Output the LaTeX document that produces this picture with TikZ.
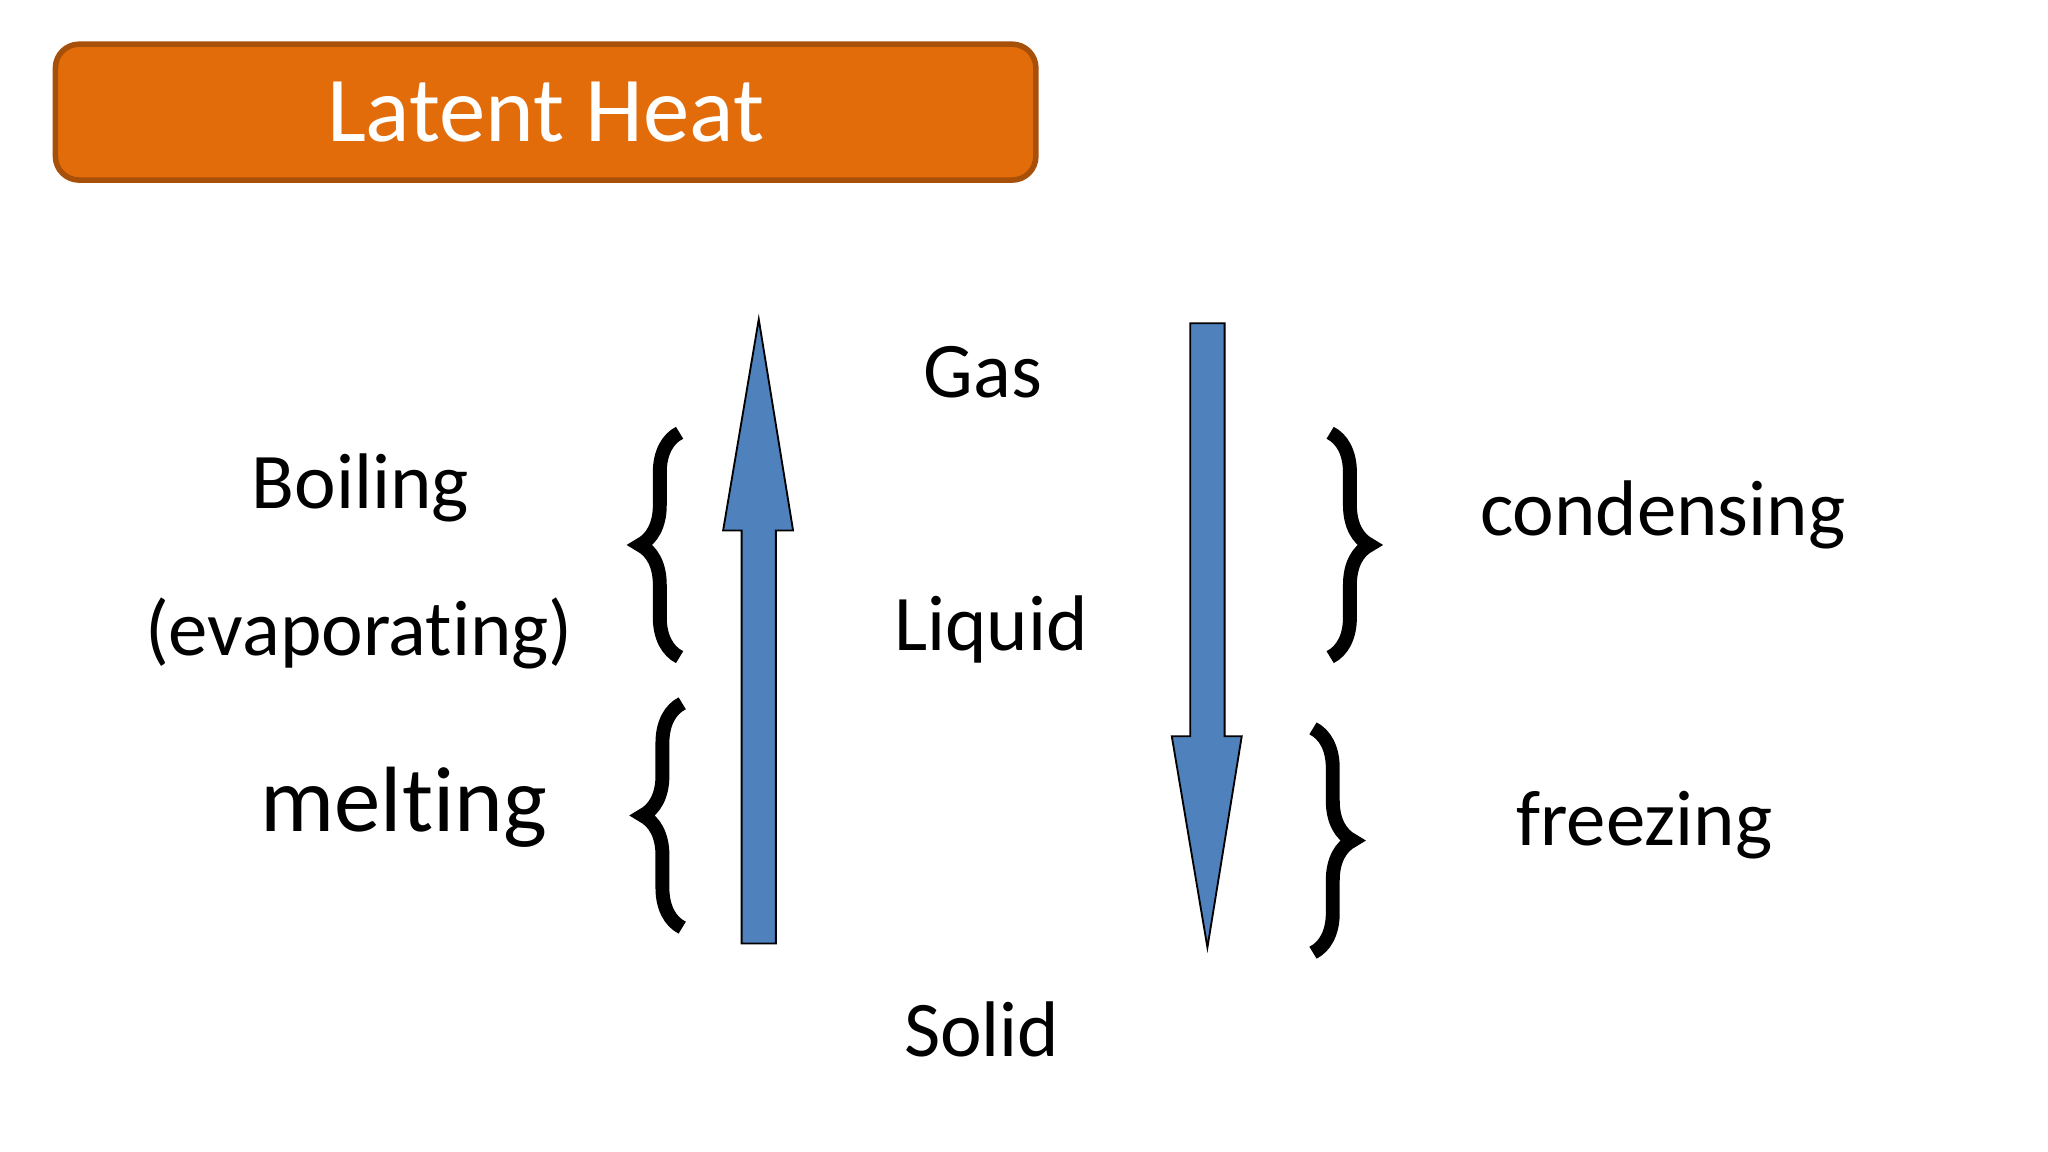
\documentclass[tikz,border=0pt]{standalone}
\usepackage{fontspec}
\setmainfont{Carlito}[Ligatures=NoCommon]
\usetikzlibrary{decorations.pathreplacing}
\definecolor{org}{HTML}{E36C0A}
\definecolor{orgb}{HTML}{A65009}
\definecolor{blu}{HTML}{4F81BD}
\tikzset{lbl/.style={font=\fontsize{17}{20}\selectfont},
 brc/.style={decorate,decoration={brace,amplitude=0.3cm},line width=3pt},
 arr/.style={fill=blu,draw=black,line width=0.4pt}}
\begin{document}
\begin{tikzpicture}
\useasboundingbox (0,0) rectangle (15.52,8.73);
\node[draw=orgb,fill=org,line width=1.2pt,rounded corners=0.18cm,minimum width=7.43cm,minimum height=1.03cm] (title) at (4.135,7.88) {};
\node[text=white,font=\fontsize{20}{24}\selectfont] at (title) {Latent Heat};
\draw[arr] (5.62,1.58) -- (5.88,1.58) -- (5.88,4.71) -- (6.01,4.71) -- (5.75,6.31) -- (5.48,4.71) -- (5.62,4.71) -- cycle;
\draw[arr] (9.02,6.28) -- (9.28,6.28) -- (9.28,3.15) -- (9.41,3.15) -- (9.15,1.55) -- (8.88,3.15) -- (9.02,3.15) -- cycle;
\node[lbl] (gas) at (7.45,5.91) {Gas};
\node[lbl] (liq) at (7.51,3.96) {Liquid};
\node[lbl] (sol) at (7.44,0.93) {Solid};
\node[lbl] (boil) at (2.73,5.03) {Boiling};
\node[lbl] (evap) at (2.72,3.93) {(evaporating)};
\node[lbl,font=\fontsize{20}{24}\selectfont] (melt) at (3.06,2.61) {melting};
\node[lbl] (cond) at (12.60,4.83) {condensing};
\node[lbl] (frz) at (12.46,2.48) {freezing};
\draw[brc] (5.15,3.75) -- (5.15,5.45);
\draw[brc] (5.17,1.70) -- (5.17,3.40);
\draw[brc] (10.08,5.45) -- (10.08,3.75);
\draw[brc] (9.95,3.21) -- (9.95,1.51);
\end{tikzpicture}
\end{document}
